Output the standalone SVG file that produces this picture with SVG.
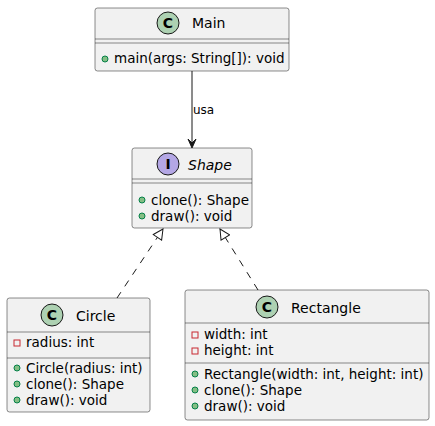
<svg xmlns="http://www.w3.org/2000/svg" width="435" height="426" viewBox="0 0 435 426">
<defs>
<style>
.box{fill:#F1F1F1;stroke:#181818;stroke-width:0.5}
.sep{stroke:#181818;stroke-width:0.5}
.t{font-family:"DejaVu Sans",sans-serif;font-size:13.5px;fill:#000}
.h{font-size:14px}
.ic{stroke:#181818;stroke-width:1}
.il{font-family:"DejaVu Sans",sans-serif;font-size:14px;font-weight:bold;fill:#000}
.pub{fill:#84BE84;stroke:#038048;stroke-width:1}
.priv{fill:none;stroke:#C82930;stroke-width:1}
.lnk{stroke:#181818;stroke-width:1;fill:none}
</style>
<marker id="tri" viewBox="0 0 12 12" refX="11" refY="6" markerWidth="12" markerHeight="12" markerUnits="userSpaceOnUse" orient="auto">
<path d="M1,1 L11,6 L1,11 Z" fill="#FFFFFF" stroke="#181818" stroke-width="1"/>
</marker>
</defs>
<g id="connectors">
<line class="lnk" x1="192" y1="71" x2="192" y2="146"/>
<polygon points="188,139 192,148 196,139 192,143" fill="#181818" stroke="#181818" stroke-width="1"/>
<text class="t" x="193" y="114" style="font-size:12px">usa</text>
<line class="lnk" x1="117" y1="298" x2="163" y2="229" stroke-dasharray="7,7" marker-end="url(#tri)"/>
<line class="lnk" x1="258" y1="290" x2="220" y2="229" stroke-dasharray="7,7" marker-end="url(#tri)"/>
</g>
<g id="Main">
<rect class="box" x="95" y="8" width="194" height="63" rx="2.5"/>
<line class="sep" x1="95" y1="39" x2="289" y2="39"/>
<line class="sep" x1="95" y1="43" x2="289" y2="43"/>
<circle class="ic" cx="168" cy="23" r="11" fill="#ADD1B2"/>
<text class="il" x="168" y="28" text-anchor="middle">C</text>
<text class="t h" x="192" y="28">Main</text>
<circle class="pub" cx="105" cy="59" r="3"/>
<text class="t" x="114" y="63">main(args: String[]): void</text>
</g>
<g id="Shape">
<rect class="box" x="132" y="148" width="120" height="80" rx="2.5"/>
<line class="sep" x1="132" y1="179" x2="252" y2="179"/>
<line class="sep" x1="132" y1="183" x2="252" y2="183"/>
<circle class="ic" cx="168" cy="164" r="11" fill="#B4A7E5"/>
<text class="il" x="168" y="169" text-anchor="middle">I</text>
<text class="t h" x="188" y="170" style="font-style:italic">Shape</text>
<circle class="pub" cx="142" cy="200" r="3"/>
<text class="t" x="151" y="205">clone(): Shape</text>
<circle class="pub" cx="142" cy="216" r="3"/>
<text class="t" x="151" y="221">draw(): void</text>
</g>
<g id="Circle">
<rect class="box" x="7" y="298" width="143" height="114" rx="2.5"/>
<line class="sep" x1="7" y1="332" x2="150" y2="332"/>
<line class="sep" x1="7" y1="358" x2="150" y2="358"/>
<circle class="ic" cx="52" cy="315" r="11" fill="#ADD1B2"/>
<text class="il" x="52" y="320" text-anchor="middle">C</text>
<text class="t h" x="76" y="321">Circle</text>
<rect class="priv" x="14" y="340" width="6" height="6"/>
<text class="t" x="26" y="347">radius: int</text>
<circle class="pub" cx="17" cy="368" r="3"/>
<text class="t" x="26" y="373">Circle(radius: int)</text>
<circle class="pub" cx="17" cy="384" r="3"/>
<text class="t" x="26" y="389">clone(): Shape</text>
<circle class="pub" cx="17" cy="400" r="3"/>
<text class="t" x="26" y="405">draw(): void</text>
</g>
<g id="Rectangle">
<rect class="box" x="185" y="290" width="244" height="130" rx="2.5"/>
<line class="sep" x1="185" y1="323" x2="429" y2="323"/>
<line class="sep" x1="185" y1="363" x2="429" y2="363"/>
<circle class="ic" cx="267" cy="307" r="11" fill="#ADD1B2"/>
<text class="il" x="267" y="312" text-anchor="middle">C</text>
<text class="t h" x="291" y="313">Rectangle</text>
<rect class="priv" x="192" y="332" width="6" height="6"/>
<text class="t" x="204" y="339">width: int</text>
<rect class="priv" x="192" y="348" width="6" height="6"/>
<text class="t" x="204" y="355">height: int</text>
<circle class="pub" cx="195" cy="374" r="3"/>
<text class="t" x="204" y="379">Rectangle(width: int, height: int)</text>
<circle class="pub" cx="195" cy="390" r="3"/>
<text class="t" x="204" y="395">clone(): Shape</text>
<circle class="pub" cx="195" cy="406" r="3"/>
<text class="t" x="204" y="411">draw(): void</text>
</g>
</svg>
